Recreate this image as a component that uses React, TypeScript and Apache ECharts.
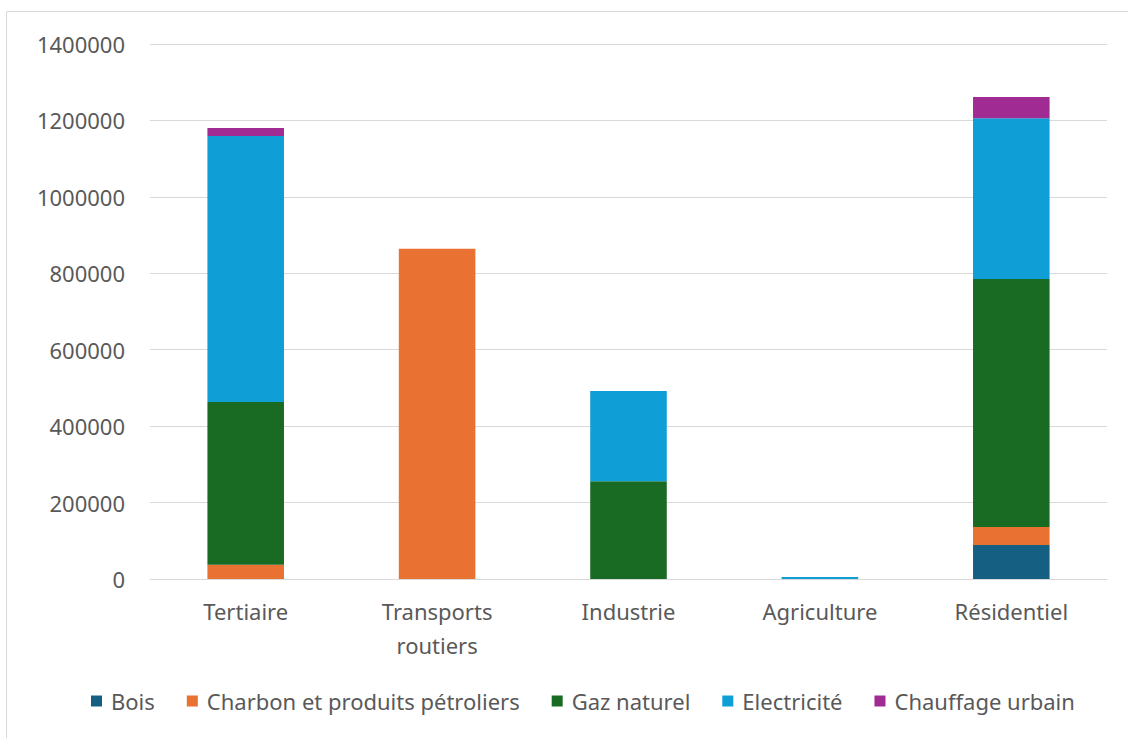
import React, { useEffect, useRef } from "react";
import * as echarts from "echarts";

const categories = ["Tertiaire", "Transports\nroutiers", "Industrie", "Agriculture", "Résidentiel"];
const bois = [0, 0, 0, 0, 89000];
const charbon = [37000, 864000, 0, 0, 47000];
const gaz = [426000, 0, 256000, 0, 649000];
const electricite = [696000, 0, 236000, 5000, 421000];
const chauffage = [21000, 0, 0, 0, 55000];
const seriesNames = ["Bois", "Charbon et produits pétroliers", "Gaz naturel", "Electricité", "Chauffage urbain"];
const colors = ["#156082", "#E97132", "#196B24", "#0F9ED5", "#A02B93"];

export default function App() {
  const ref = useRef<HTMLDivElement>(null);
  useEffect(() => {
    document.body.style.margin = "0";
    const chart = echarts.init(ref.current!, null, { renderer: "svg" });
    const font = "'Noto Sans', 'Open Sans', sans-serif";
    const datas = [bois, charbon, gaz, electricite, chauffage];
    chart.setOption({
      animation: false,
      color: colors,
      graphic: [
        {
          type: "rect",
          shape: { x: 6.5, y: 11.5, width: 1130, height: 740 },
          style: { fill: "none", stroke: "#d9d9d9", lineWidth: 1 },
          silent: true,
        },
      ],
      grid: { left: 150, right: 21, top: 44, bottom: 159, containLabel: false },
      legend: {
        bottom: 21,
        left: 86,
        itemWidth: 11,
        itemHeight: 11,
        itemGap: 32,
        icon: "rect",
        textStyle: { fontFamily: font, fontSize: 22, color: "#595959", padding: [0, 0, 0, 4] },
        data: seriesNames,
      },
      xAxis: {
        type: "category",
        data: categories,
        axisLine: { lineStyle: { color: "#d9d9d9", width: 1 } },
        axisTick: { show: false },
        axisLabel: {
          fontFamily: font,
          fontSize: 22,
          color: "#595959",
          margin: 15,
          lineHeight: 34,
        },
      },
      yAxis: {
        type: "value",
        min: 0,
        max: 1400000,
        interval: 200000,
        axisLine: { show: false },
        axisTick: { show: false },
        splitLine: { lineStyle: { color: "#d9d9d9", width: 1 } },
        axisLabel: {
          fontFamily: font,
          fontSize: 22,
          color: "#595959",
          margin: 25,
          formatter: (v: number) => String(v),
        },
      },
      series: seriesNames.map((name, i) => ({
        name,
        type: "bar",
        stack: "total",
        barWidth: "40%",
        data: datas[i],
        itemStyle: { color: colors[i] },
      })),
    });
    return () => chart.dispose();
  }, []);
  return <div ref={ref} style={{ width: 1128, height: 738 }} />;
}
